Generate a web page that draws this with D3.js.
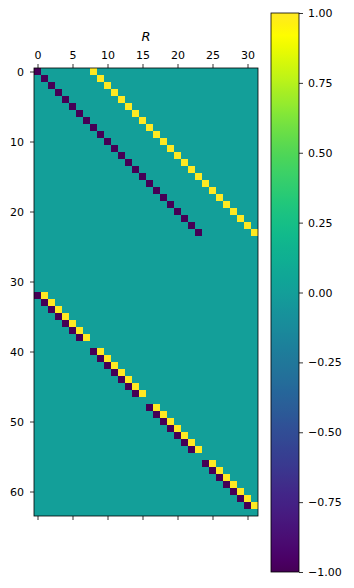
<!DOCTYPE html>
<html>
<head>
<meta charset="utf-8">
<script src="https://cdn.jsdelivr.net/npm/d3@7"></script>
<style>
  body { margin: 0; background: #fff; }
  svg { display: block; font-family: "DejaVu Sans", sans-serif; }
</style>
</head>
<body>
<div id="container"></div>
<script>
/* CONSTANTS AND GLOBALS */
const width = 354;
const height = 588;
const nRows = 64;
const nCols = 32;

// nonzero cells of R, as [row, col]
const minusCells = [
  [0,0],[1,1],[2,2],[3,3],[4,4],[5,5],[6,6],[7,7],[8,8],[9,9],[10,10],[11,11],
  [12,12],[13,13],[14,14],[15,15],[16,16],[17,17],[18,18],[19,19],[20,20],[21,21],[22,22],[23,23],
  [32,0],[33,1],[34,2],[35,3],[36,4],[37,5],[38,6],
  [40,8],[41,9],[42,10],[43,11],[44,12],[45,13],[46,14],
  [48,16],[49,17],[50,18],[51,19],[52,20],[53,21],[54,22],
  [56,24],[57,25],[58,26],[59,27],[60,28],[61,29],[62,30]
];
const plusCells = [
  [0,8],[1,9],[2,10],[3,11],[4,12],[5,13],[6,14],[7,15],[8,16],[9,17],[10,18],[11,19],
  [12,20],[13,21],[14,22],[15,23],[16,24],[17,25],[18,26],[19,27],[20,28],[21,29],[22,30],[23,31],
  [32,1],[33,2],[34,3],[35,4],[36,5],[37,6],[38,7],
  [40,9],[41,10],[42,11],[43,12],[44,13],[45,14],[46,15],
  [48,17],[49,18],[50,19],[51,20],[52,21],[53,22],[54,23],
  [56,25],[57,26],[58,27],[59,28],[60,29],[61,30],[62,31]
];
const xTicks = [0, 5, 10, 15, 20, 25, 30];
const yTicks = [0, 10, 20, 30, 40, 50, 60];
const cbarTicks = [-1, -0.75, -0.5, -0.25, 0, 0.25, 0.5, 0.75, 1];
const title = "R";

// build the full matrix
const cells = [];
for (let r = 0; r < nRows; r++) {
  for (let c = 0; c < nCols; c++) cells.push({ row: r, col: c, value: 0 });
}
minusCells.forEach(([r, c]) => { cells[r * nCols + c].value = -1; });
plusCells.forEach(([r, c]) => { cells[r * nCols + c].value = 1; });

const svg = d3.select("#container").append("svg")
  .attr("width", width)
  .attr("height", height);

// viridis, a touch more saturated like the reference image
const viridis = t => {
  const c = d3.hsl(d3.interpolateViridis(t));
  c.s = Math.min(1, c.s * 1.25);
  return c.formatHex();
};

/* SCALES */
const xScale = d3.scaleLinear().domain([-0.5, nCols - 0.5]).range([34, 258]);
const yScale = d3.scaleLinear().domain([-0.5, nRows - 0.5]).range([68, 516]);
const color = d3.scaleSequential(viridis).domain([-1, 1]);
const cellW = xScale(1) - xScale(0);
const cellH = yScale(1) - yScale(0);

/* CELLS */
svg.append("g")
  .attr("shape-rendering", "crispEdges")
  .selectAll("rect.cell")
  .data(cells)
  .join("rect")
  .attr("class", "cell")
  .attr("x", d => xScale(d.col - 0.5))
  .attr("y", d => yScale(d.row - 0.5))
  .attr("width", cellW)
  .attr("height", cellH)
  .attr("fill", d => color(d.value));

/* AXES */
function styleAxis(g, showLabels) {
  g.select(".domain").remove();
  g.selectAll(".tick line").attr("stroke", "#000").attr("stroke-width", 0.8);
  g.selectAll(".tick text").attr("fill", "#000").style("font-size", "11px")
    .style("font-family", "DejaVu Sans, sans-serif");
  if (!showLabels) g.selectAll(".tick text").remove();
}

svg.append("g")
  .attr("transform", `translate(0,${yScale.range()[0]})`)
  .call(d3.axisTop(xScale).tickValues(xTicks).tickSize(4).tickPadding(5))
  .call(g => styleAxis(g, true));

svg.append("g")
  .attr("transform", `translate(0,${yScale.range()[1]})`)
  .call(d3.axisBottom(xScale).tickValues(xTicks).tickSize(4))
  .call(g => styleAxis(g, false));

svg.append("g")
  .attr("transform", `translate(${xScale.range()[0]},0)`)
  .call(d3.axisLeft(yScale).tickValues(yTicks).tickSize(4).tickPadding(6))
  .call(g => styleAxis(g, true));

svg.append("rect")
  .attr("x", xScale.range()[0])
  .attr("y", yScale.range()[0])
  .attr("width", xScale.range()[1] - xScale.range()[0])
  .attr("height", yScale.range()[1] - yScale.range()[0])
  .attr("fill", "none")
  .attr("stroke", "#000")
  .attr("stroke-width", 0.8);

svg.append("text")
  .attr("x", (xScale.range()[0] + xScale.range()[1]) / 2)
  .attr("y", 41)
  .attr("text-anchor", "middle")
  .style("font-size", "13px")
  .style("font-style", "italic")
  .text(title);

/* COLORBAR */
const cbX = 271, cbW = 28;
const cbScale = d3.scaleLinear().domain([-1, 1]).range([572, 13]);

const grad = svg.append("defs").append("linearGradient")
  .attr("id", "viridis")
  .attr("x1", "0%").attr("y1", "100%")
  .attr("x2", "0%").attr("y2", "0%");
d3.range(0, 1.0001, 0.02).forEach(t => {
  grad.append("stop")
    .attr("offset", `${t * 100}%`)
    .attr("stop-color", viridis(t));
});

svg.append("rect")
  .attr("x", cbX)
  .attr("y", cbScale(1))
  .attr("width", cbW)
  .attr("height", cbScale(-1) - cbScale(1))
  .attr("fill", "url(#viridis)")
  .attr("stroke", "#000")
  .attr("stroke-width", 0.8);

svg.append("g")
  .attr("transform", `translate(${cbX + cbW},0)`)
  .call(d3.axisRight(cbScale).tickValues(cbarTicks).tickFormat(d3.format(".2f")).tickSize(4).tickPadding(5))
  .call(g => styleAxis(g, true));
</script>
</body>
</html>
